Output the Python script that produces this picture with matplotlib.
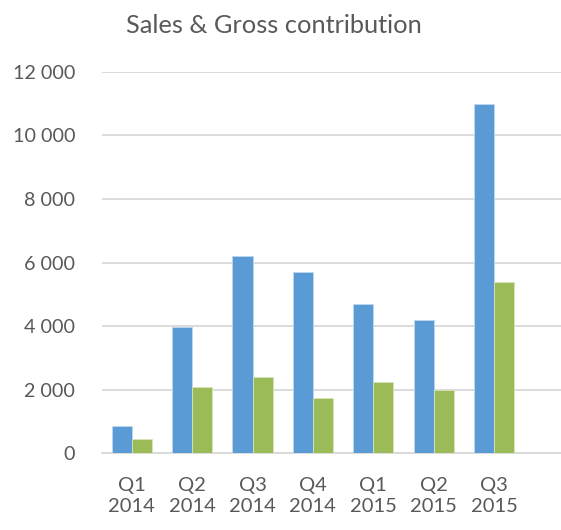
import matplotlib.pyplot as plt
import numpy as np
from matplotlib.ticker import FuncFormatter

plt.rcParams['font.family'] = ['Lato', 'DejaVu Sans']

# --- Data ---
quarters = ['Q1\n2014', 'Q2\n2014', 'Q3\n2014', 'Q4\n2014',
            'Q1\n2015', 'Q2\n2015', 'Q3\n2015']
sales = [870, 3960, 6210, 5700, 4700, 4190, 10990]
gross_contribution = [440, 2080, 2410, 1730, 2230, 1990, 5380]

TEXT_COLOR = '#595959'
GRID_COLOR = '#D9D9D9'

fig = plt.figure(figsize=(5.61, 5.30), dpi=100)
# plot area runs past the right edge (chart was cropped in the original)
ax = fig.add_axes([0.1813, 0.1447, 0.8606, 0.72])

x = np.arange(len(quarters))
w = 1 / 3
ax.bar(x - w / 2, sales, width=w, color='#5B9BD5', edgecolor='#BDD7EE', linewidth=0.6, zorder=3)
ax.bar(x + w / 2, gross_contribution, width=w, color='#9BBB59', edgecolor='#D7E4BD', linewidth=0.6, zorder=3)

ax.set_xlim(-0.5, 7.5)
ax.set_ylim(0, 12000)
ax.set_yticks(range(0, 12001, 2000))
ax.yaxis.set_major_formatter(FuncFormatter(lambda v, _: f'{int(v):,}'.replace(',', ' ')))
ax.set_xticks(x)
ax.set_xticklabels(quarters, linespacing=1.3)

ax.grid(axis='y', color=GRID_COLOR, linewidth=1.3, zorder=0)
for side in ['top', 'right', 'left']:
    ax.spines[side].set_visible(False)
ax.spines['bottom'].set_color(GRID_COLOR)
ax.spines['bottom'].set_linewidth(1.3)

ax.tick_params(axis='y', length=0, pad=19, labelsize=14.2, labelcolor=TEXT_COLOR)
ax.tick_params(axis='x', length=0, pad=17, labelsize=14.5, labelcolor=TEXT_COLOR)

fig.text(0.489, 0.952, 'Sales & Gross contribution', ha='center', va='center',
         fontsize=18.3, color=TEXT_COLOR)

fig.savefig('out.png', dpi=100)
